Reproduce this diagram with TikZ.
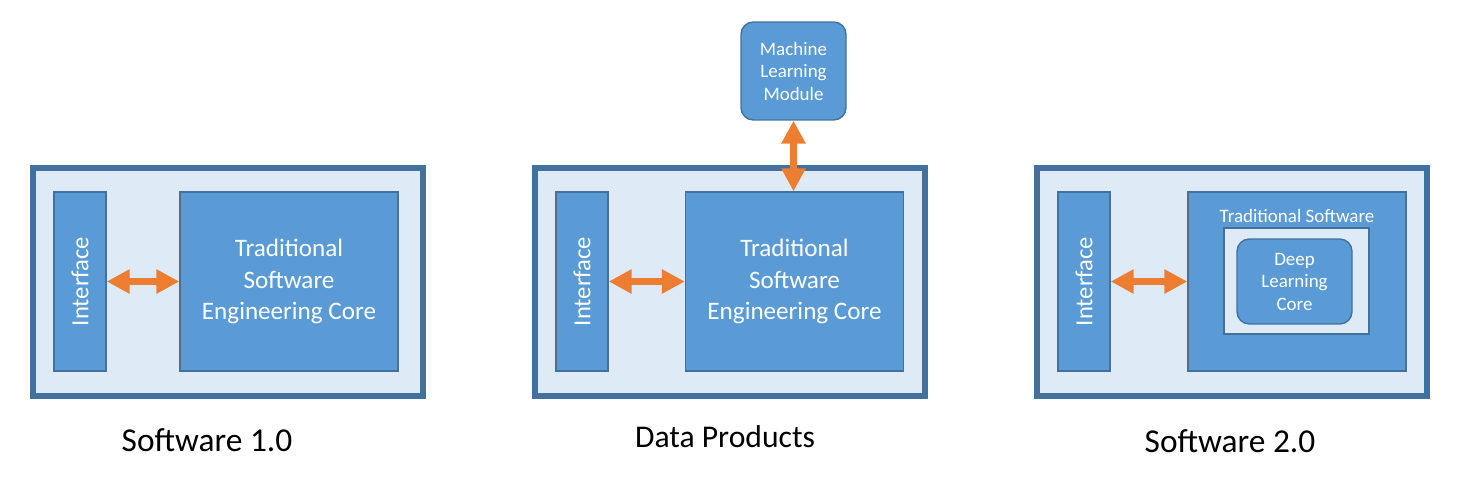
\documentclass[tikz,border=0pt]{standalone}
\usepackage{fontspec}
\setmainfont{Carlito}
\usetikzlibrary{arrows.meta,positioning}
\definecolor{frameBlue}{RGB}{65,113,156}
\definecolor{paleBlue}{RGB}{222,235,247}
\definecolor{boxBlue}{RGB}{91,155,213}
\definecolor{linkOrange}{RGB}{237,125,49}

\begin{document}
\begin{tikzpicture}[x=0.02cm,y=-0.02cm,
  panel/.style={rectangle,draw=frameBlue,fill=paleBlue,line width=0.12cm,
                minimum width=7.8cm,minimum height=4.56cm},
  iface/.style={rectangle,draw=frameBlue,fill=boxBlue,line width=0.8pt,
                minimum width=1.04cm,minimum height=3.58cm},
  core/.style={rectangle,draw=frameBlue,fill=boxBlue,line width=0.8pt,
               minimum width=4.36cm,minimum height=3.58cm,align=center,
               text=white,font=\fontsize{14.3}{17.8}\selectfont},
  module/.style={rectangle,draw=frameBlue,fill=boxBlue,line width=0.8pt,
                 rounded corners=7pt,align=center,text=white,
                 font=\fontsize{10.8}{12.8}\selectfont},
  vert/.style={rotate=90,text=white,font=\fontsize{14}{16}\selectfont},
  caption/.style={font=\fontsize{19}{22}\selectfont},
  link/.style={{Triangle[length=13pt,width=13pt]}-{Triangle[length=13pt,width=13pt]},
               line width=4.5pt,draw=linkOrange}
]
  \useasboundingbox (0,0) rectangle (1459,480);
  % Software 1.0
  \node[panel] (pan1) at (228,282) {};
  \node[iface] (if1) at (80,281.5) {};
  \node[vert] at (if1) {Interface};
  \node[core] (core1) at (289,281.5) {Traditional\\Software\\Engineering Core};
  \draw[link] (if1) -- (core1);
  \node[caption] (cap1) at (207,440) {Software 1.0};
  % Data Products
  \node[panel] (pan2) at (730,282) {};
  \node[iface] (if2) at (582,281.5) {};
  \node[vert] at (if2) {Interface};
  \node[core] (core2) at (794.5,281.5) {Traditional\\Software\\Engineering Core};
  \node[module,minimum width=2.1cm,minimum height=1.96cm] (ml) at (793.5,71)
       {Machine\\Learning\\Module};
  \draw[link] (if2) -- (core2);
  \draw[link] (ml.south) -- (ml.south |- core2.north);
  \node[caption,font=\fontsize{18}{21}\selectfont] (cap2) at (725,437) {Data Products};
  % Software 2.0
  \node[panel] (pan3) at (1232,282) {};
  \node[iface] (if3) at (1084,281.5) {};
  \node[vert] at (if3) {Interface};
  \node[core] (trad) at (1297,281.5) {};
  \node[text=white,font=\fontsize{10.8}{12}\selectfont] (tradlbl) at (1297,216) {Traditional Software};
  \node[rectangle,draw=frameBlue,fill=paleBlue,line width=0.8pt,
        minimum width=2.9cm,minimum height=2.12cm] (well) at (1296.5,281) {};
  \node[module,minimum width=2.3cm,minimum height=1.7cm] (dl) at (1294.5,281.5)
       {Deep\\Learning\\Core};
  \draw[link] (if3) -- (trad);
  \node[caption] (cap3) at (1230,441) {Software 2.0};
\end{tikzpicture}
\end{document}
